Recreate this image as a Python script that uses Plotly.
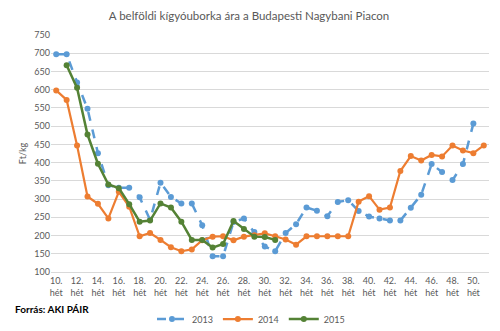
import plotly.graph_objects as go

weeks_2013 = list(range(10, 51))
vals_2013 = [697, 697, 620, 548, 426, 338, 331, 331, 305, 243, 345, 306, 288, 288, 228, 143, 143, 237, 247, 210,
             170, 157, 207, 231, 277, 268, 253, 292, 297, 267, 252, 247, 241, 241, 276, 312, 396, 374, 352, 396, 507]

weeks_2014 = list(range(10, 52))
vals_2014 = [598, 572, 447, 307, 287, 247, 320, 279, 198, 207, 188, 168, 157, 162, 187, 197, 198, 187, 197, 201,
             206, 198, 189, 175, 198, 198, 198, 198, 198, 293, 308, 271, 277, 377, 418, 406, 421, 417, 447, 433, 426, 447]

weeks_2015 = list(range(11, 32))
vals_2015 = [667, 605, 477, 397, 340, 330, 286, 238, 241, 288, 277, 238, 188, 188, 167, 177, 240, 218, 197, 196, 188]

tick_weeks = list(range(10, 51, 2))
tick_text = [f"{w}.<br>hét" for w in tick_weeks]

title_text = "A belföldi kígyóuborka ára a Budapesti Nagybani Piacon"
y_title = "Ft/kg"
source_text = "Forrás: AKI PÁIR"

FONT = "Lato, 'Open Sans', sans-serif"
GREY = "#595959"

fig = go.Figure()
fig.add_trace(go.Scatter(x=weeks_2013, y=vals_2013, name="2013", mode="lines+markers",
                         line=dict(color="#5B9BD5", width=2.5, dash="dash"),
                         marker=dict(color="#5B9BD5", size=6)))
fig.add_trace(go.Scatter(x=weeks_2014, y=vals_2014, name="2014", mode="lines+markers",
                         line=dict(color="#ED7D31", width=2.2),
                         marker=dict(color="#ED7D31", size=6)))
fig.add_trace(go.Scatter(x=weeks_2015, y=vals_2015, name="2015", mode="lines+markers",
                         line=dict(color="#548235", width=2.5),
                         marker=dict(color="#548235", size=6)))

fig.update_layout(
    width=500, height=331,
    margin=dict(l=51, r=11, t=35, b=59, autoexpand=False),
    paper_bgcolor="white", plot_bgcolor="white",
    font=dict(family=FONT, size=9, color=GREY),
    title=dict(text=title_text, x=0.498, xanchor="center", y=0.952, yanchor="middle",
               font=dict(family=FONT, size=11.5, color=GREY)),
    showlegend=True,
    legend=dict(orientation="h", xref="container", yref="container", x=0.502, xanchor="center",
                y=0.036, yanchor="middle",
                font=dict(family=FONT, size=9, color=GREY), itemwidth=30,
                bgcolor="rgba(0,0,0,0)", tracegroupgap=0),
    xaxis=dict(range=[9.5, 51.5], tickmode="array", tickvals=tick_weeks, ticktext=tick_text,
               showgrid=False, zeroline=False, showline=True, linecolor="#d9d9d9", linewidth=1,
               ticks="", tickfont=dict(family=FONT, size=9, color=GREY), tickangle=0, automargin=False),
    yaxis=dict(range=[100, 750], dtick=50, showgrid=True, gridcolor="#d9d9d9", gridwidth=1,
               zeroline=False, showline=False, ticks="", automargin=False,
               tickfont=dict(family=FONT, size=9, color=GREY),
               title=dict(text=y_title, font=dict(family=FONT, size=9, color=GREY), standoff=6)),
)

fig.add_annotation(text=f"<b>{source_text}</b>", xref="paper", yref="paper",
                   x=-0.086, y=-0.155, xanchor="left", yanchor="middle", showarrow=False,
                   font=dict(family=FONT, size=10, color="#000000"))

fig.write_html("out.html")
